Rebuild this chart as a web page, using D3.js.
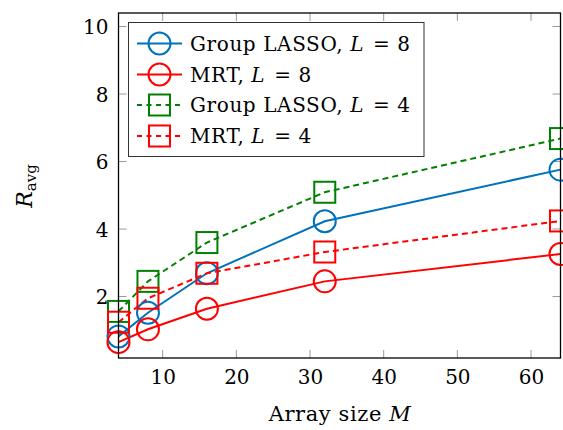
<!DOCTYPE html>
<html><head><meta charset="utf-8">
<script src="https://cdn.jsdelivr.net/npm/d3@7/dist/d3.min.js"></script>
<style>body{margin:0;background:#fff}svg{display:block}
svg text{font-family:"DejaVu Serif","Liberation Serif",serif;}</style>
</head><body><svg id="c" width="563" height="430"></svg>
<script>
const arraySizes = [4, 8, 16, 32, 64];
const glassoL8 = [0.82, 1.52, 2.69, 4.23, 5.76];
const mrtL8 = [0.65, 1.03, 1.64, 2.45, 3.26];
const glassoL4 = [1.56, 2.45, 3.60, 5.09, 6.68];
const mrtL4 = [1.24, 1.95, 2.69, 3.32, 4.24];
const xTicks = [10, 20, 30, 40, 50, 60];
const yTicks = [2, 4, 6, 8, 10];

const series = [
  {name: "Group LASSO, ", L: "8", values: glassoL8, color: "#0072BD", dash: null, marker: "circle"},
  {name: "MRT, ", L: "8", values: mrtL8, color: "#FF0000", dash: null, marker: "circle"},
  {name: "Group LASSO, ", L: "4", values: glassoL4, color: "#008000", dash: "6,4", marker: "square"},
  {name: "MRT, ", L: "4", values: mrtL4, color: "#FF0000", dash: "6,4", marker: "square"}
];

const svg = d3.select("#c");
const m = {l: 118.5, r: 560.5, t: 13, b: 358};
const x = d3.scaleLinear().domain([4, 64]).range([m.l, m.r]);
const y = d3.scaleLinear().domain([0.18, 10.4]).range([m.b, m.t]);
const font = '"DejaVu Serif", "Liberation Serif", serif';
const tickColor = "#999";
const tl = 8;

const g = svg.append("g");
xTicks.forEach(t => {
  g.append("line").attr("x1", x(t)).attr("x2", x(t)).attr("y1", m.b).attr("y2", m.b - tl).attr("stroke", tickColor).attr("stroke-width", 1);
  g.append("line").attr("x1", x(t)).attr("x2", x(t)).attr("y1", m.t).attr("y2", m.t + tl).attr("stroke", tickColor).attr("stroke-width", 1);
});
yTicks.forEach(t => {
  g.append("line").attr("x1", m.l).attr("x2", m.l + tl).attr("y1", y(t)).attr("y2", y(t)).attr("stroke", tickColor).attr("stroke-width", 1);
  g.append("line").attr("x1", m.r).attr("x2", m.r - tl).attr("y1", y(t)).attr("y2", y(t)).attr("stroke", tickColor).attr("stroke-width", 1);
});

const xAxis = svg.append("g").attr("transform", `translate(0,${m.b})`)
  .call(d3.axisBottom(x).tickValues(xTicks).tickSize(0).tickPadding(12));
xAxis.attr("font-family", null).attr("font-size", null);
xAxis.select(".domain").remove();
xAxis.selectAll("text").style("font-family", font).style("font-size", "20px").attr("fill", "#000").attr("dy", "0.71em");
const yAxis = svg.append("g").attr("transform", `translate(${m.l},0)`)
  .call(d3.axisLeft(y).tickValues(yTicks).tickSize(0).tickPadding(10));
yAxis.attr("font-family", null).attr("font-size", null);
yAxis.select(".domain").remove();
yAxis.selectAll("text").style("font-family", font).style("font-size", "20px").attr("fill", "#000").attr("dy", "0.35em");

const line = d3.line().x((d, i) => x(arraySizes[i])).y(d => y(d));
function drawMarker(sel, type, cx, cy, color) {
  if (type === "circle") {
    sel.append("circle").attr("cx", cx).attr("cy", cy).attr("r", 11)
      .attr("fill", "none").attr("stroke", color).attr("stroke-width", 2);
  } else {
    sel.append("rect").attr("x", cx - 10.5).attr("y", cy - 10.5).attr("width", 21).attr("height", 21)
      .attr("fill", "none").attr("stroke", color).attr("stroke-width", 2);
  }
}
series.forEach(s => {
  svg.append("path").datum(s.values).attr("d", line).attr("fill", "none")
    .attr("stroke", s.color).attr("stroke-width", 2).attr("stroke-dasharray", s.dash);
});
series.forEach(s => {
  const mg = svg.append("g");
  s.values.forEach((v, i) => drawMarker(mg, s.marker, x(arraySizes[i]), y(v), s.color));
});

svg.append("rect").attr("x", m.l).attr("y", m.t).attr("width", m.r - m.l).attr("height", m.b - m.t)
  .attr("fill", "none").attr("stroke", "#000").attr("stroke-width", 1.3);

const lg = svg.append("g");
lg.append("rect").attr("x", 128.5).attr("y", 22.5).attr("width", 295.5).attr("height", 134)
  .attr("fill", "#fff").attr("stroke", "#333").attr("stroke-width", 1);
const rowY = [43.5, 74.5, 105, 136];
series.forEach((s, i) => {
  const yy = rowY[i];
  lg.append("line").attr("x1", 137).attr("x2", 182).attr("y1", yy).attr("y2", yy)
    .attr("stroke", s.color).attr("stroke-width", 2).attr("stroke-dasharray", s.dash ? "5,4.5" : null);
  drawMarker(lg, s.marker, 159.5, yy, s.color);
  const t = lg.append("text").attr("x", 190).attr("y", yy).attr("dy", "0.35em")
    .style("font-family", font).style("font-size", "20px").style("letter-spacing", "0.6px").style("white-space", "pre").attr("fill", "#000");
  t.append("tspan").text(s.name);
  t.append("tspan").attr("font-style", "italic").text("L");
  t.append("tspan").text(" = " + s.L).attr("dx", 2);
});

const xt = svg.append("text").attr("x", 340).attr("y", 421).attr("text-anchor", "middle")
  .style("font-family", font).style("font-size", "21px").style("letter-spacing", "0.6px").attr("fill", "#000");
xt.append("tspan").text("Array size ");
xt.append("tspan").attr("font-style", "italic").text("M");

const yt = svg.append("text").attr("transform", "translate(32,186) rotate(-90)").attr("text-anchor", "middle")
  .style("font-family", font).style("font-size", "22px").attr("fill", "#000");
yt.append("tspan").attr("font-style", "italic").text("R");
yt.append("tspan").style("font-size", "15px").attr("dy", 4).text("avg");
</script></body></html>
